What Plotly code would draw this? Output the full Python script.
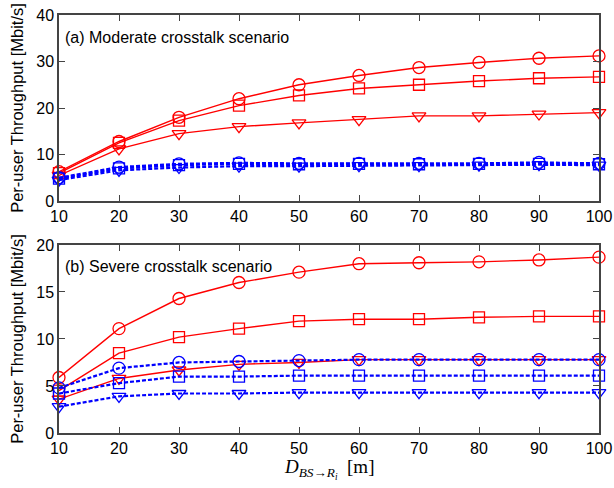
import plotly.graph_objects as go

x = [10, 20, 30, 40, 50, 60, 70, 80, 90, 100]

# (a) Moderate crosstalk scenario
a_red_circle = [6.3, 12.8, 18.0, 22.0, 25.0, 27.0, 28.7, 29.8, 30.7, 31.2]
a_red_square = [6.0, 12.5, 17.3, 20.5, 22.7, 24.2, 25.0, 25.8, 26.4, 26.7]
a_red_tri = [5.5, 11.2, 14.5, 16.0, 16.8, 17.5, 18.3, 18.3, 18.7, 19.0]
a_blue_circle = [5.0, 7.3, 8.0, 8.2, 8.1, 8.1, 8.1, 8.1, 8.3, 8.1]
a_blue_square = [4.8, 7.0, 7.7, 8.0, 7.9, 8.0, 7.9, 8.0, 8.0, 7.9]
a_blue_tri = [4.5, 6.6, 7.2, 7.5, 7.5, 7.6, 7.6, 7.7, 7.8, 7.7]

# (b) Severe crosstalk scenario
b_red_circle = [5.9, 11.1, 14.3, 16.0, 17.1, 18.0, 18.1, 18.2, 18.4, 18.7]
b_red_square = [4.5, 8.5, 10.2, 11.1, 11.9, 12.1, 12.1, 12.3, 12.4, 12.4]
b_red_tri = [3.6, 5.8, 6.7, 7.3, 7.5, 7.8, 7.8, 7.8, 7.8, 7.8]
b_blue_circle = [4.8, 6.9, 7.5, 7.6, 7.7, 7.8, 7.8, 7.8, 7.8, 7.8]
b_blue_square = [4.2, 5.3, 6.0, 6.0, 6.1, 6.1, 6.1, 6.1, 6.1, 6.1]
b_blue_tri = [2.8, 3.9, 4.2, 4.2, 4.3, 4.3, 4.3, 4.3, 4.3, 4.3]

RED = "#ff0000"
BLUE = "#0000ff"

fig = go.Figure()

def add(y, color, symbol, dashed, xa, ya):
    fig.add_trace(go.Scatter(
        x=x, y=y, mode="lines+markers", xaxis=xa, yaxis=ya, showlegend=False,
        cliponaxis=False,
        line=dict(color=color, width=2.2 if dashed else 1.4,
                  dash="4px,2px" if dashed else "solid"),
        marker=dict(symbol=symbol, size=12 if symbol != "square-open" else 11,
                    color=color, line=dict(color=color, width=1.3)),
    ))

for y, c, s, d in [
    (a_red_circle, RED, "circle-open", False),
    (a_red_square, RED, "square-open", False),
    (a_red_tri, RED, "triangle-down-open", False),
    (a_blue_circle, BLUE, "circle-open", True),
    (a_blue_square, BLUE, "square-open", True),
    (a_blue_tri, BLUE, "triangle-down-open", True),
]:
    add(y, c, s, d, "x", "y")

for y, c, s, d in [
    (b_red_circle, RED, "circle-open", False),
    (b_red_square, RED, "square-open", False),
    (b_red_tri, RED, "triangle-down-open", False),
    (b_blue_circle, BLUE, "circle-open", True),
    (b_blue_square, BLUE, "square-open", True),
    (b_blue_tri, BLUE, "triangle-down-open", True),
]:
    add(y, c, s, d, "x2", "y2")

FONT = "Liberation Sans, Arial, sans-serif"
axcommon = dict(showline=True, linecolor="#444", linewidth=1.5, mirror="ticks",
                ticks="inside", ticklen=6, tickcolor="#444", tickwidth=1.3,
                showgrid=False, zeroline=False, automargin=False,
                tickfont=dict(family=FONT, size=16, color="black"))

ytitle = dict(text="Per-user Throughput [Mbit/s]", standoff=8,
              font=dict(family=FONT, size=16.5, color="black"))

fig.update_layout(
    template="none",
    width=614, height=488,
    margin=dict(l=59, r=15, t=15, b=55),
    plot_bgcolor="white", paper_bgcolor="white",
    xaxis=dict(domain=[0, 1], anchor="y", range=[10, 100], dtick=10, **axcommon),
    yaxis=dict(domain=[0.555, 1], anchor="x", range=[0, 40], dtick=10,
               title=ytitle, **axcommon),
    xaxis2=dict(domain=[0, 1], anchor="y2", range=[10, 100], dtick=10, **axcommon),
    yaxis2=dict(domain=[0, 0.45], anchor="x2", range=[0, 20], dtick=5,
                title=ytitle, **axcommon),
    annotations=[
        dict(text="(a) Moderate crosstalk scenario", xref="paper", yref="paper",
             x=0.008, y=0.945, xanchor="left", yanchor="middle", showarrow=False,
             font=dict(family=FONT, size=16, color="black")),
        dict(text="(b) Severe crosstalk scenario", xref="paper", yref="paper",
             x=0.008, y=0.398, xanchor="left", yanchor="middle", showarrow=False,
             font=dict(family=FONT, size=16, color="black")),
        dict(text="<i>D</i><sub><i>BS→R</i><sub><i>i</i></sub></sub>  [m]",
             xref="paper", yref="paper", x=0.5, y=-0.085,
             xanchor="center", yanchor="middle", showarrow=False,
             font=dict(family="Liberation Serif, Times New Roman, serif",
                       size=19, color="black")),
    ],
)

fig.write_html("out.html", config={"displayModeBar": False},
               post_script="document.body.style.margin='0';document.body.style.overflow='hidden';")
